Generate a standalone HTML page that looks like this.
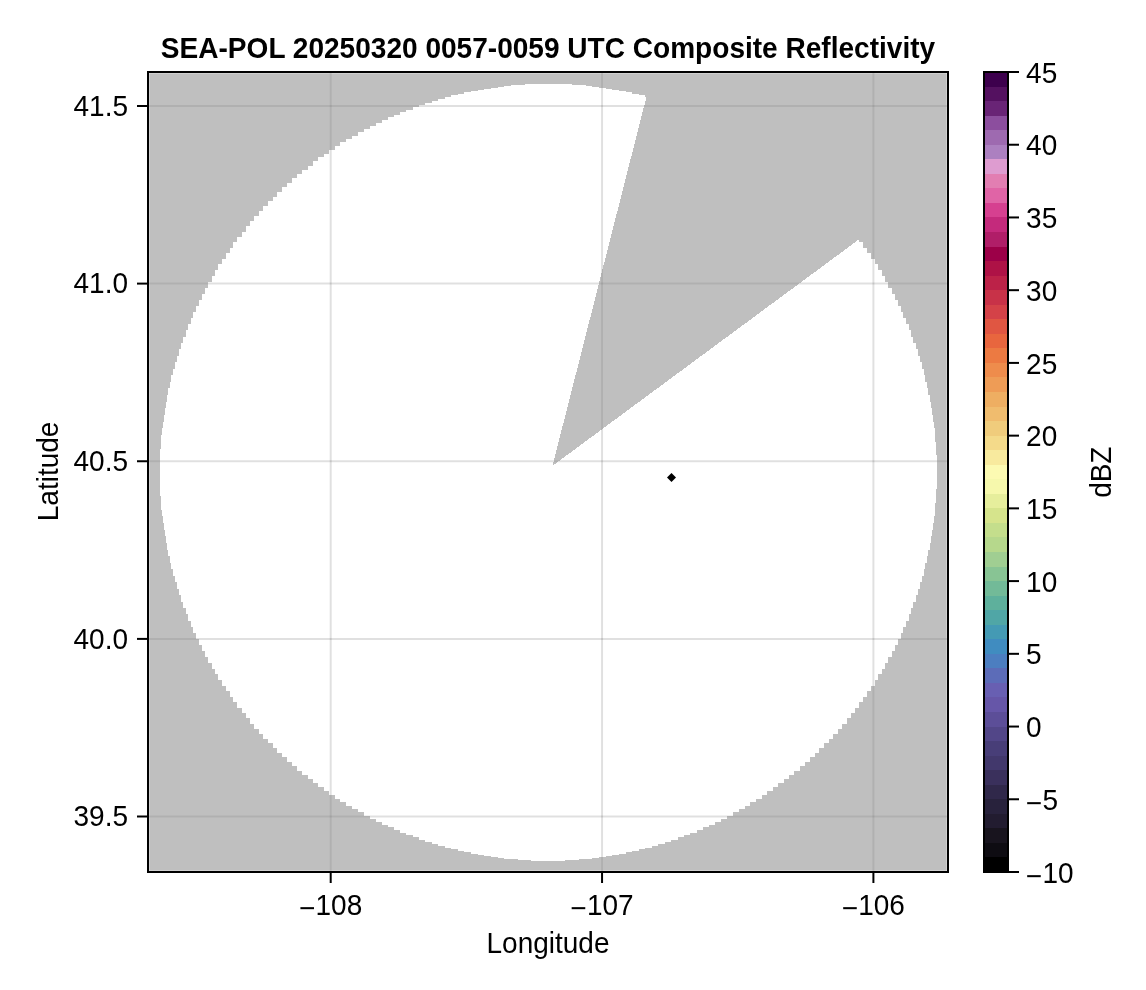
<!DOCTYPE html>
<html lang="en">
<head>
<meta charset="utf-8">
<title>SEA-POL 20250320 0057-0059 UTC Composite Reflectivity</title>
<style>
html,body{margin:0;padding:0;background:#fff;}
body{width:1146px;height:990px;overflow:hidden;}
svg{display:block;}
text{font-family:"Liberation Sans",sans-serif;font-size:28px;fill:#000;}
.title{font-weight:bold;}
</style>
</head>
<body>
<svg width="1146" height="990" viewBox="0 0 1146 990">
<rect x="0" y="0" width="1146" height="990" fill="#ffffff"/>
<!-- grid (drawn beneath the heatmap, shows through) -->
<g stroke="#000" stroke-opacity="0.12" stroke-width="2" fill="none">
<line x1="330.7" y1="73" x2="330.7" y2="871"/>
<line x1="602.05" y1="73" x2="602.05" y2="871"/>
<line x1="873.4" y1="73" x2="873.4" y2="871"/>
<line x1="149" y1="106" x2="947" y2="106"/>
<line x1="149" y1="283.6" x2="947" y2="283.6"/>
<line x1="149" y1="461.25" x2="947" y2="461.25"/>
<line x1="149" y1="638.9" x2="947" y2="638.9"/>
<line x1="149" y1="816.5" x2="947" y2="816.5"/>
</g>
<!-- heatmap: semi-transparent gray NaN area; white disc with blocked sector left clear -->
<defs>
<mask id="nanmask" maskUnits="userSpaceOnUse" x="148" y="72" width="800" height="800">
<g shape-rendering="crispEdges">
<rect x="148" y="72" width="800" height="800" fill="#fff"/>
<path fill="#000" d="M551.7,83.9 L558.5,83.9 L558.5,84.1 L565.2,84.1 L565.2,84.4 L572.0,84.4 L572.0,84.8 L578.8,84.8 L578.8,85.4 L585.5,85.4 L585.5,86.0 L592.2,86.0 L592.2,86.8 L598.9,86.8 L598.9,87.7 L605.6,87.7 L605.6,88.7 L612.3,88.7 L612.3,89.8 L619.0,89.8 L619.0,91.0 L625.6,91.0 L625.6,92.3 L632.2,92.3 L632.2,93.8 L638.8,93.8 L638.8,95.4 L645.3,95.4 L645.3,97.1 L651.9,97.1 L651.9,98.9 L658.3,98.9 L658.3,100.8 L664.8,100.8 L664.8,102.8 L671.2,102.8 L671.2,104.9 L677.6,104.9 L677.6,107.2 L683.9,107.2 L683.9,109.5 L690.2,109.5 L690.2,112.0 L696.5,112.0 L696.5,114.6 L702.7,114.6 L702.7,117.3 L708.8,117.3 L708.8,120.0 L714.9,120.0 L714.9,122.9 L721.0,122.9 L721.0,125.9 L727.0,125.9 L727.0,129.0 L733.0,129.0 L733.0,132.2 L738.8,132.2 L738.8,135.5 L744.7,135.5 L744.7,138.9 L750.4,138.9 L750.4,142.4 L756.2,142.4 L756.2,146.0 L761.8,146.0 L761.8,149.7 L767.4,149.7 L767.4,153.5 L772.9,153.5 L772.9,157.4 L778.4,157.4 L778.4,161.4 L783.7,161.4 L783.7,165.5 L789.1,165.5 L789.1,169.6 L794.3,169.6 L794.3,173.9 L799.5,173.9 L799.5,178.2 L804.5,178.2 L804.5,182.7 L809.6,182.7 L809.6,187.2 L814.5,187.2 L814.5,191.8 L819.3,191.8 L819.3,196.5 L824.1,196.5 L824.1,201.3 L828.8,201.3 L828.8,206.1 L833.4,206.1 L833.4,211.0 L837.9,211.0 L837.9,216.1 L842.4,216.1 L842.4,221.1 L846.7,221.1 L846.7,226.3 L851.0,226.3 L851.0,231.5 L855.1,231.5 L855.1,236.9 L859.2,236.9 L859.2,242.2 L863.2,242.2 L863.2,247.7 L867.1,247.7 L867.1,253.2 L870.9,253.2 L870.9,258.8 L874.6,258.8 L874.6,264.4 L878.2,264.4 L878.2,270.2 L881.7,270.2 L881.7,275.9 L885.1,275.9 L885.1,281.8 L888.4,281.8 L888.4,287.6 L891.6,287.6 L891.6,293.6 L894.7,293.6 L894.7,299.6 L897.7,299.6 L897.7,305.7 L900.6,305.7 L900.6,311.8 L903.3,311.8 L903.3,317.9 L906.0,317.9 L906.0,324.1 L908.6,324.1 L908.6,330.4 L911.1,330.4 L911.1,336.7 L913.4,336.7 L913.4,343.0 L915.7,343.0 L915.7,349.4 L917.8,349.4 L917.8,355.8 L919.8,355.8 L919.8,362.3 L921.7,362.3 L921.7,368.7 L923.5,368.7 L923.5,375.3 L925.2,375.3 L925.2,381.8 L926.8,381.8 L926.8,388.4 L928.3,388.4 L928.3,395.0 L929.6,395.0 L929.6,401.6 L930.8,401.6 L930.8,408.3 L931.9,408.3 L931.9,415.0 L932.9,415.0 L932.9,421.7 L933.8,421.7 L933.8,428.4 L934.6,428.4 L934.6,435.1 L935.2,435.1 L935.2,441.8 L935.8,441.8 L935.8,448.6 L936.2,448.6 L936.2,455.4 L936.5,455.4 L936.5,462.1 L936.7,462.1 L936.7,468.9 L936.7,468.9 L936.7,475.7 L936.7,482.5 L936.5,482.5 L936.5,489.2 L936.2,489.2 L936.2,496.0 L935.8,496.0 L935.8,502.8 L935.2,502.8 L935.2,509.5 L934.6,509.5 L934.6,516.2 L933.8,516.2 L933.8,522.9 L932.9,522.9 L932.9,529.6 L931.9,529.6 L931.9,536.3 L930.8,536.3 L930.8,543.0 L929.6,543.0 L929.6,549.6 L928.3,549.6 L928.3,556.2 L926.8,556.2 L926.8,562.8 L925.2,562.8 L925.2,569.3 L923.5,569.3 L923.5,575.9 L921.7,575.9 L921.7,582.3 L919.8,582.3 L919.8,588.8 L917.8,588.8 L917.8,595.2 L915.7,595.2 L915.7,601.6 L913.4,601.6 L913.4,607.9 L911.1,607.9 L911.1,614.2 L908.6,614.2 L908.6,620.5 L906.0,620.5 L906.0,626.7 L903.3,626.7 L903.3,632.8 L900.6,632.8 L900.6,638.9 L897.7,638.9 L897.7,645.0 L894.7,645.0 L894.7,651.0 L891.6,651.0 L891.6,657.0 L888.4,657.0 L888.4,662.8 L885.1,662.8 L885.1,668.7 L881.7,668.7 L881.7,674.4 L878.2,674.4 L878.2,680.2 L874.6,680.2 L874.6,685.8 L870.9,685.8 L870.9,691.4 L867.1,691.4 L867.1,696.9 L863.2,696.9 L863.2,702.4 L859.2,702.4 L859.2,707.7 L855.1,707.7 L855.1,713.1 L851.0,713.1 L851.0,718.3 L846.7,718.3 L846.7,723.5 L842.4,723.5 L842.4,728.5 L837.9,728.5 L837.9,733.6 L833.4,733.6 L833.4,738.5 L828.8,738.5 L828.8,743.3 L824.1,743.3 L824.1,748.1 L819.3,748.1 L819.3,752.8 L814.5,752.8 L814.5,757.4 L809.6,757.4 L809.6,761.9 L804.5,761.9 L804.5,766.4 L799.5,766.4 L799.5,770.7 L794.3,770.7 L794.3,775.0 L789.1,775.0 L789.1,779.1 L783.7,779.1 L783.7,783.2 L778.4,783.2 L778.4,787.2 L772.9,787.2 L772.9,791.1 L767.4,791.1 L767.4,794.9 L761.8,794.9 L761.8,798.6 L756.2,798.6 L756.2,802.2 L750.4,802.2 L750.4,805.7 L744.7,805.7 L744.7,809.1 L738.8,809.1 L738.8,812.4 L733.0,812.4 L733.0,815.6 L727.0,815.6 L727.0,818.7 L721.0,818.7 L721.0,821.7 L714.9,821.7 L714.9,824.6 L708.8,824.6 L708.8,827.3 L702.7,827.3 L702.7,830.0 L696.5,830.0 L696.5,832.6 L690.2,832.6 L690.2,835.1 L683.9,835.1 L683.9,837.4 L677.6,837.4 L677.6,839.7 L671.2,839.7 L671.2,841.8 L664.8,841.8 L664.8,843.8 L658.3,843.8 L658.3,845.7 L651.9,845.7 L651.9,847.5 L645.3,847.5 L645.3,849.2 L638.8,849.2 L638.8,850.8 L632.2,850.8 L632.2,852.3 L625.6,852.3 L625.6,853.6 L619.0,853.6 L619.0,854.8 L612.3,854.8 L612.3,855.9 L605.6,855.9 L605.6,856.9 L598.9,856.9 L598.9,857.8 L592.2,857.8 L592.2,858.6 L585.5,858.6 L585.5,859.2 L578.8,859.2 L578.8,859.8 L572.0,859.8 L572.0,860.2 L565.2,860.2 L565.2,860.5 L558.5,860.5 L558.5,860.7 L551.7,860.7 L544.9,860.7 L544.9,860.7 L538.1,860.7 L538.1,860.5 L531.4,860.5 L531.4,860.2 L524.6,860.2 L524.6,859.8 L517.8,859.8 L517.8,859.2 L511.1,859.2 L511.1,858.6 L504.4,858.6 L504.4,857.8 L497.7,857.8 L497.7,856.9 L491.0,856.9 L491.0,855.9 L484.3,855.9 L484.3,854.8 L477.6,854.8 L477.6,853.6 L471.0,853.6 L471.0,852.3 L464.4,852.3 L464.4,850.8 L457.8,850.8 L457.8,849.2 L451.3,849.2 L451.3,847.5 L444.7,847.5 L444.7,845.7 L438.3,845.7 L438.3,843.8 L431.8,843.8 L431.8,841.8 L425.4,841.8 L425.4,839.7 L419.0,839.7 L419.0,837.4 L412.7,837.4 L412.7,835.1 L406.4,835.1 L406.4,832.6 L400.1,832.6 L400.1,830.0 L393.9,830.0 L393.9,827.3 L387.8,827.3 L387.8,824.6 L381.7,824.6 L381.7,821.7 L375.6,821.7 L375.6,818.7 L369.6,818.7 L369.6,815.6 L363.6,815.6 L363.6,812.4 L357.8,812.4 L357.8,809.1 L351.9,809.1 L351.9,805.7 L346.2,805.7 L346.2,802.2 L340.4,802.2 L340.4,798.6 L334.8,798.6 L334.8,794.9 L329.2,794.9 L329.2,791.1 L323.7,791.1 L323.7,787.2 L318.2,787.2 L318.2,783.2 L312.9,783.2 L312.9,779.1 L307.5,779.1 L307.5,775.0 L302.3,775.0 L302.3,770.7 L297.1,770.7 L297.1,766.4 L292.1,766.4 L292.1,761.9 L287.0,761.9 L287.0,757.4 L282.1,757.4 L282.1,752.8 L277.3,752.8 L277.3,748.1 L272.5,748.1 L272.5,743.3 L267.8,743.3 L267.8,738.5 L263.2,738.5 L263.2,733.6 L258.7,733.6 L258.7,728.5 L254.2,728.5 L254.2,723.5 L249.9,723.5 L249.9,718.3 L245.6,718.3 L245.6,713.1 L241.5,713.1 L241.5,707.7 L237.4,707.7 L237.4,702.4 L233.4,702.4 L233.4,696.9 L229.5,696.9 L229.5,691.4 L225.7,691.4 L225.7,685.8 L222.0,685.8 L222.0,680.2 L218.4,680.2 L218.4,674.4 L214.9,674.4 L214.9,668.7 L211.5,668.7 L211.5,662.8 L208.2,662.8 L208.2,657.0 L205.0,657.0 L205.0,651.0 L201.9,651.0 L201.9,645.0 L198.9,645.0 L198.9,638.9 L196.0,638.9 L196.0,632.8 L193.3,632.8 L193.3,626.7 L190.6,626.7 L190.6,620.5 L188.0,620.5 L188.0,614.2 L185.5,614.2 L185.5,607.9 L183.2,607.9 L183.2,601.6 L180.9,601.6 L180.9,595.2 L178.8,595.2 L178.8,588.8 L176.8,588.8 L176.8,582.3 L174.9,582.3 L174.9,575.9 L173.1,575.9 L173.1,569.3 L171.4,569.3 L171.4,562.8 L169.8,562.8 L169.8,556.2 L168.3,556.2 L168.3,549.6 L167.0,549.6 L167.0,543.0 L165.8,543.0 L165.8,536.3 L164.7,536.3 L164.7,529.6 L163.7,529.6 L163.7,522.9 L162.8,522.9 L162.8,516.2 L162.0,516.2 L162.0,509.5 L161.4,509.5 L161.4,502.8 L160.8,502.8 L160.8,496.0 L160.4,496.0 L160.4,489.2 L160.1,489.2 L160.1,482.5 L159.9,482.5 L159.9,475.7 L159.9,475.7 L159.9,468.9 L159.9,462.1 L160.1,462.1 L160.1,455.4 L160.4,455.4 L160.4,448.6 L160.8,448.6 L160.8,441.8 L161.4,441.8 L161.4,435.1 L162.0,435.1 L162.0,428.4 L162.8,428.4 L162.8,421.7 L163.7,421.7 L163.7,415.0 L164.7,415.0 L164.7,408.3 L165.8,408.3 L165.8,401.6 L167.0,401.6 L167.0,395.0 L168.3,395.0 L168.3,388.4 L169.8,388.4 L169.8,381.8 L171.4,381.8 L171.4,375.3 L173.1,375.3 L173.1,368.7 L174.9,368.7 L174.9,362.3 L176.8,362.3 L176.8,355.8 L178.8,355.8 L178.8,349.4 L180.9,349.4 L180.9,343.0 L183.2,343.0 L183.2,336.7 L185.5,336.7 L185.5,330.4 L188.0,330.4 L188.0,324.1 L190.6,324.1 L190.6,317.9 L193.3,317.9 L193.3,311.8 L196.0,311.8 L196.0,305.7 L198.9,305.7 L198.9,299.6 L201.9,299.6 L201.9,293.6 L205.0,293.6 L205.0,287.6 L208.2,287.6 L208.2,281.8 L211.5,281.8 L211.5,275.9 L214.9,275.9 L214.9,270.2 L218.4,270.2 L218.4,264.4 L222.0,264.4 L222.0,258.8 L225.7,258.8 L225.7,253.2 L229.5,253.2 L229.5,247.7 L233.4,247.7 L233.4,242.2 L237.4,242.2 L237.4,236.9 L241.5,236.9 L241.5,231.5 L245.6,231.5 L245.6,226.3 L249.9,226.3 L249.9,221.1 L254.2,221.1 L254.2,216.1 L258.7,216.1 L258.7,211.0 L263.2,211.0 L263.2,206.1 L267.8,206.1 L267.8,201.3 L272.5,201.3 L272.5,196.5 L277.3,196.5 L277.3,191.8 L282.1,191.8 L282.1,187.2 L287.0,187.2 L287.0,182.7 L292.1,182.7 L292.1,178.2 L297.1,178.2 L297.1,173.9 L302.3,173.9 L302.3,169.6 L307.5,169.6 L307.5,165.5 L312.9,165.5 L312.9,161.4 L318.2,161.4 L318.2,157.4 L323.7,157.4 L323.7,153.5 L329.2,153.5 L329.2,149.7 L334.8,149.7 L334.8,146.0 L340.4,146.0 L340.4,142.4 L346.2,142.4 L346.2,138.9 L351.9,138.9 L351.9,135.5 L357.8,135.5 L357.8,132.2 L363.6,132.2 L363.6,129.0 L369.6,129.0 L369.6,125.9 L375.6,125.9 L375.6,122.9 L381.7,122.9 L381.7,120.0 L387.8,120.0 L387.8,117.3 L393.9,117.3 L393.9,114.6 L400.1,114.6 L400.1,112.0 L406.4,112.0 L406.4,109.5 L412.7,109.5 L412.7,107.2 L419.0,107.2 L419.0,104.9 L425.4,104.9 L425.4,102.8 L431.8,102.8 L431.8,100.8 L438.3,100.8 L438.3,98.9 L444.7,98.9 L444.7,97.1 L451.3,97.1 L451.3,95.4 L457.8,95.4 L457.8,93.8 L464.4,93.8 L464.4,92.3 L471.0,92.3 L471.0,91.0 L477.6,91.0 L477.6,89.8 L484.3,89.8 L484.3,88.7 L491.0,88.7 L491.0,87.7 L497.7,87.7 L497.7,86.8 L504.4,86.8 L504.4,86.0 L511.1,86.0 L511.1,85.4 L517.8,85.4 L517.8,84.8 L524.6,84.8 L524.6,84.4 L531.4,84.4 L531.4,84.1 L538.1,84.1 L538.1,83.9 L544.9,83.9 L551.7,83.9Z"/>
<polygon fill="#fff" points="552.5,465.8 679.8,-34.0 1016.1,-34.0 966.1,160.3"/>
</g>
</mask>
</defs>
<rect x="149.25" y="73.25" width="797.5" height="797.5" fill="#808080" fill-opacity="0.5" mask="url(#nanmask)"/>
<!-- marker -->
<polygon points="671.5,472.9 676,477.4 671.5,481.9 667,477.4" fill="#000"/>
<!-- colorbar -->
<g shape-rendering="crispEdges">
<rect x="984" y="72.000" width="24" height="15.045" fill="#3d004d"/>
<rect x="984" y="86.545" width="24" height="15.045" fill="#541160"/>
<rect x="984" y="101.091" width="24" height="15.045" fill="#692476"/>
<rect x="984" y="115.636" width="24" height="15.045" fill="#8c4e9e"/>
<rect x="984" y="130.182" width="24" height="15.045" fill="#9e6ab0"/>
<rect x="984" y="144.727" width="24" height="15.045" fill="#ac80c0"/>
<rect x="984" y="159.273" width="24" height="15.045" fill="#de9cd0"/>
<rect x="984" y="173.818" width="24" height="15.045" fill="#e27eb2"/>
<rect x="984" y="188.364" width="24" height="15.045" fill="#e064a6"/>
<rect x="984" y="202.909" width="24" height="15.045" fill="#d64090"/>
<rect x="984" y="217.455" width="24" height="15.045" fill="#c42a7c"/>
<rect x="984" y="232.000" width="24" height="15.045" fill="#b01e68"/>
<rect x="984" y="246.545" width="24" height="15.045" fill="#9c0048"/>
<rect x="984" y="261.091" width="24" height="15.045" fill="#ae1246"/>
<rect x="984" y="275.636" width="24" height="15.045" fill="#bc2248"/>
<rect x="984" y="290.182" width="24" height="15.045" fill="#c83248"/>
<rect x="984" y="304.727" width="24" height="15.045" fill="#d44248"/>
<rect x="984" y="319.273" width="24" height="15.045" fill="#e05642"/>
<rect x="984" y="333.818" width="24" height="15.045" fill="#e8663e"/>
<rect x="984" y="348.364" width="24" height="15.045" fill="#ec7a42"/>
<rect x="984" y="362.909" width="24" height="15.045" fill="#ee8c4c"/>
<rect x="984" y="377.455" width="24" height="15.045" fill="#ee9c56"/>
<rect x="984" y="392.000" width="24" height="15.045" fill="#eeae62"/>
<rect x="984" y="406.545" width="24" height="15.045" fill="#f0bc6e"/>
<rect x="984" y="421.091" width="24" height="15.045" fill="#f0cc7c"/>
<rect x="984" y="435.636" width="24" height="15.045" fill="#f4da8a"/>
<rect x="984" y="450.182" width="24" height="15.045" fill="#f8ea9e"/>
<rect x="984" y="464.727" width="24" height="15.045" fill="#fcfab2"/>
<rect x="984" y="479.273" width="24" height="15.045" fill="#f6f8ac"/>
<rect x="984" y="493.818" width="24" height="15.045" fill="#e6ee9c"/>
<rect x="984" y="508.364" width="24" height="15.045" fill="#d6e48c"/>
<rect x="984" y="522.909" width="24" height="15.045" fill="#c4de8c"/>
<rect x="984" y="537.455" width="24" height="15.045" fill="#b6d88c"/>
<rect x="984" y="552.000" width="24" height="15.045" fill="#a0ce92"/>
<rect x="984" y="566.545" width="24" height="15.045" fill="#88c494"/>
<rect x="984" y="581.091" width="24" height="15.045" fill="#72ba98"/>
<rect x="984" y="595.636" width="24" height="15.045" fill="#5eb09c"/>
<rect x="984" y="610.182" width="24" height="15.045" fill="#50a6a6"/>
<rect x="984" y="624.727" width="24" height="15.045" fill="#449ab4"/>
<rect x="984" y="639.273" width="24" height="15.045" fill="#408cc0"/>
<rect x="984" y="653.818" width="24" height="15.045" fill="#4c7ec0"/>
<rect x="984" y="668.364" width="24" height="15.045" fill="#5c6cb8"/>
<rect x="984" y="682.909" width="24" height="15.045" fill="#685fb2"/>
<rect x="984" y="697.455" width="24" height="15.045" fill="#6656a8"/>
<rect x="984" y="712.000" width="24" height="15.045" fill="#5c4e98"/>
<rect x="984" y="726.545" width="24" height="15.045" fill="#524688"/>
<rect x="984" y="741.091" width="24" height="15.045" fill="#483e78"/>
<rect x="984" y="755.636" width="24" height="15.045" fill="#42386c"/>
<rect x="984" y="770.182" width="24" height="15.045" fill="#3a305c"/>
<rect x="984" y="784.727" width="24" height="15.045" fill="#30284a"/>
<rect x="984" y="799.273" width="24" height="15.045" fill="#28223c"/>
<rect x="984" y="813.818" width="24" height="15.045" fill="#221c30"/>
<rect x="984" y="828.364" width="24" height="15.045" fill="#18141e"/>
<rect x="984" y="842.909" width="24" height="15.045" fill="#0e0c12"/>
<rect x="984" y="857.455" width="24" height="14.545" fill="#000000"/>
</g>
<rect x="984" y="72" width="24" height="800" fill="none" stroke="#000" stroke-width="2" shape-rendering="crispEdges"/>
<!-- axis frame -->
<rect x="148" y="72" width="800" height="800" fill="none" stroke="#000" stroke-width="2" shape-rendering="crispEdges"/>
<!-- ticks -->
<g stroke="#000" stroke-width="2" fill="none">
<line x1="330.7" y1="873" x2="330.7" y2="883"/>
<line x1="602.05" y1="873" x2="602.05" y2="883"/>
<line x1="873.4" y1="873" x2="873.4" y2="883"/>
<line x1="137" y1="106" x2="147" y2="106"/>
<line x1="137" y1="283.6" x2="147" y2="283.6"/>
<line x1="137" y1="461.25" x2="147" y2="461.25"/>
<line x1="137" y1="638.9" x2="147" y2="638.9"/>
<line x1="137" y1="816.5" x2="147" y2="816.5"/>
<line x1="1009" y1="72.00" x2="1019" y2="72.00"/>
<line x1="1009" y1="144.73" x2="1019" y2="144.73"/>
<line x1="1009" y1="217.45" x2="1019" y2="217.45"/>
<line x1="1009" y1="290.18" x2="1019" y2="290.18"/>
<line x1="1009" y1="362.91" x2="1019" y2="362.91"/>
<line x1="1009" y1="435.64" x2="1019" y2="435.64"/>
<line x1="1009" y1="508.36" x2="1019" y2="508.36"/>
<line x1="1009" y1="581.09" x2="1019" y2="581.09"/>
<line x1="1009" y1="653.82" x2="1019" y2="653.82"/>
<line x1="1009" y1="726.55" x2="1019" y2="726.55"/>
<line x1="1009" y1="799.27" x2="1019" y2="799.27"/>
<line x1="1009" y1="872.00" x2="1019" y2="872.00"/>
</g>
<!-- labels -->
<g>
<text transform="translate(330.7,914.9) scale(1,1.035)" text-anchor="middle"><tspan dy="3.2">−</tspan><tspan dy="-3.2">108</tspan></text>
<text transform="translate(602.05,914.9) scale(1,1.035)" text-anchor="middle"><tspan dy="3.2">−</tspan><tspan dy="-3.2">107</tspan></text>
<text transform="translate(873.4,914.9) scale(1,1.035)" text-anchor="middle"><tspan dy="3.2">−</tspan><tspan dy="-3.2">106</tspan></text>
<text transform="translate(128,115.8) scale(1,1.035)" text-anchor="end">41.5</text>
<text transform="translate(128,293.4) scale(1,1.035)" text-anchor="end">41.0</text>
<text transform="translate(128,471.1) scale(1,1.035)" text-anchor="end">40.5</text>
<text transform="translate(128,648.7) scale(1,1.035)" text-anchor="end">40.0</text>
<text transform="translate(128,826.3) scale(1,1.035)" text-anchor="end">39.5</text>
<text transform="translate(1026.1,82.6) scale(1,1.035)">45</text>
<text transform="translate(1026.1,155.3) scale(1,1.035)">40</text>
<text transform="translate(1026.1,228.1) scale(1,1.035)">35</text>
<text transform="translate(1026.1,300.8) scale(1,1.035)">30</text>
<text transform="translate(1026.1,373.5) scale(1,1.035)">25</text>
<text transform="translate(1026.1,446.2) scale(1,1.035)">20</text>
<text transform="translate(1026.1,519.0) scale(1,1.035)">15</text>
<text transform="translate(1026.1,591.7) scale(1,1.035)">10</text>
<text transform="translate(1026.1,664.4) scale(1,1.035)">5</text>
<text transform="translate(1026.1,737.1) scale(1,1.035)">0</text>
<text transform="translate(1026.1,809.9) scale(1,1.035)"><tspan dy="3.2">−</tspan><tspan dy="-3.2">5</tspan></text>
<text transform="translate(1026.1,882.6) scale(1,1.035)"><tspan dy="3.2">−</tspan><tspan dy="-3.2">10</tspan></text>
</g>
<text class="title" transform="translate(548,58.3) scale(1.002,1.085)" text-anchor="middle">SEA-POL 20250320 0057-0059 UTC Composite Reflectivity</text>
<text transform="translate(548.0,952.7) scale(1,1.025)" text-anchor="middle">Longitude</text>
<text transform="translate(57.9,471.4) rotate(-90) scale(1,1.035)" text-anchor="middle">Latitude</text>
<text transform="translate(1110.7,472.2) rotate(-90) scale(1,1.035)" text-anchor="middle">dBZ</text>
</svg>
</body>
</html>
